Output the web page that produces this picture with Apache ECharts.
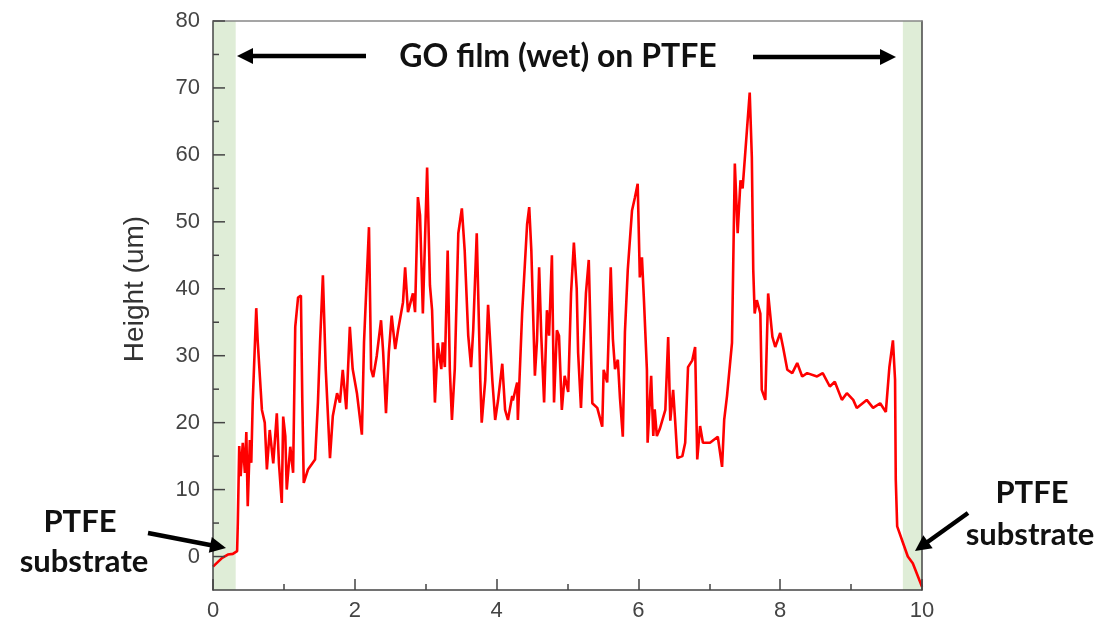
<!DOCTYPE html>
<html>
<head>
<meta charset="utf-8">
<script src="https://cdn.jsdelivr.net/npm/echarts@6/dist/echarts.min.js"></script>
<style>
html,body{margin:0;padding:0;background:#fff;}
#chart{width:1105px;height:628px;}
</style>
</head>
<body>
<div id="chart"></div>
<script>
// Position (x) and height (um) traced from the profile
var positions = [0.00,0.07,0.13,0.21,0.28,0.34,0.35,0.37,0.39,0.42,0.45,0.47,0.49,0.52,0.54,0.56,0.61,0.63,0.69,0.73,0.76,0.80,0.85,0.90,0.93,0.97,0.99,1.02,1.04,1.09,1.13,1.16,1.20,1.24,1.26,1.28,1.34,1.40,1.44,1.48,1.51,1.55,1.59,1.65,1.69,1.75,1.79,1.83,1.88,1.93,1.97,2.03,2.10,2.13,2.20,2.23,2.26,2.31,2.37,2.40,2.44,2.48,2.52,2.57,2.61,2.68,2.71,2.75,2.82,2.85,2.89,2.92,2.96,3.02,3.06,3.09,3.13,3.17,3.22,3.24,3.27,3.31,3.34,3.37,3.41,3.46,3.51,3.55,3.60,3.64,3.67,3.72,3.77,3.79,3.84,3.88,3.94,3.98,4.02,4.08,4.12,4.16,4.22,4.23,4.29,4.30,4.36,4.43,4.46,4.49,4.54,4.57,4.60,4.63,4.67,4.71,4.74,4.78,4.81,4.85,4.88,4.92,4.96,5.01,5.05,5.09,5.13,5.15,5.19,5.22,5.26,5.30,5.35,5.42,5.49,5.51,5.56,5.61,5.64,5.67,5.71,5.74,5.78,5.81,5.85,5.91,5.95,5.99,6.02,6.05,6.08,6.12,6.13,6.18,6.21,6.23,6.26,6.30,6.38,6.42,6.45,6.49,6.52,6.55,6.62,6.66,6.70,6.76,6.80,6.83,6.87,6.91,7.01,7.12,7.18,7.21,7.25,7.32,7.36,7.40,7.44,7.47,7.53,7.57,7.60,7.62,7.64,7.67,7.72,7.74,7.79,7.83,7.89,7.93,8.00,8.04,8.10,8.17,8.24,8.31,8.38,8.52,8.60,8.70,8.77,8.87,8.94,9.03,9.08,9.22,9.31,9.41,9.49,9.54,9.59,9.62,9.63,9.65,9.73,9.80,9.87,10.00];
var heights = [-1.5,-0.8,-0.2,0.3,0.4,0.8,5,16.5,12,17,12.5,18.6,7.5,17.4,14,23,37.1,32.3,21.9,20,13,18.9,13.9,21.4,13.9,8,20.9,18,10,16.4,12.5,34.3,38.7,39,23,11,13,13.9,14.5,23,32,42,28,14.7,21,24.4,23,27.9,22,34.3,28,24.4,18.2,32,49.2,28,26.8,30,35.3,30.5,21.4,30.5,36,31,33.8,38,43.2,36.5,39.3,36.5,53.7,51,36.3,58.1,40.5,36.8,23,31.9,28,32,28.3,45.7,28,20.4,28,48.3,52,45.7,33,28.3,33.8,48.3,26.3,20,26.3,37.6,26.3,20.4,23.3,28.8,21.9,20.4,24,23.3,26,20.4,36.3,49.6,52.2,45.7,27,32.3,43.2,33,23,36.8,33,45,23,33.8,33,21.9,27,24.6,39.3,46.9,40,30.4,22.2,29.8,39.3,44.3,22.9,22.2,19.4,27.9,26,43.2,32.5,28,29.4,23.7,17.9,33.5,42.8,51.7,53.6,55.7,41.7,44.7,37.9,27.9,17,27,18,22,18,19,21.9,32.8,20.3,24.9,20,14.7,15,17,28.3,29.3,31.3,14.5,19.5,17,17,17.9,13.4,20.4,24,31.9,58.7,48.3,56.2,55,63.6,69.3,59.6,42.8,36.3,38.3,36.3,24.9,23.4,39.3,32.8,31.3,33.4,31.3,27.9,27.4,28.9,26.9,27.4,26.9,27.4,25.4,26.1,23.4,24.4,23.4,22.2,23.4,22.2,22.9,21.6,28.3,32.3,26.4,11.5,4.5,2.1,0,-1,-4.5];
var yTickValues = [0,10,20,30,40,50,60,70,80];
var yMinorTickValues = [5,15,25,35,45,55,65,75];
var substrateBands = [[0,0.32],[9.73,10]];

var chart = echarts.init(document.getElementById('chart'), null, {renderer:'canvas'});
var pairs = positions.map(function(x,i){return [x, heights[i]];});
var tickFont = {fontFamily:'Liberation Sans', fontSize:22, color:'#444'};
var titleFont = 'bold 32px Lato';
var annoFont = 'bold 31px Lato';
var axisColor = '#444';
var MAJOR_LEN = 12, MINOR_LEN = 6;
var yTickData = yTickValues.map(function(v){return [0, v, MAJOR_LEN];})
  .concat(yMinorTickValues.map(function(v){return [0, v, MINOR_LEN];}));

function arrow(x1,y1,x2,y2){
  var ang = Math.atan2(y2-y1, x2-x1);
  var L = 16, W = 8;
  var bx = x2 - L*Math.cos(ang), by = y2 - L*Math.sin(ang);
  var px = -Math.sin(ang), py = Math.cos(ang);
  return [
    {type:'line', shape:{x1:x1,y1:y1,x2:bx+Math.cos(ang),y2:by+Math.sin(ang)}, style:{stroke:'#000', lineWidth:4.5}, z:100},
    {type:'polygon', shape:{points:[[x2,y2],[bx+px*W,by+py*W],[bx-px*W,by-py*W]]}, style:{fill:'#000'}, z:100}
  ];
}
function label(x,y,text,font){
  return {type:'text', x:x, y:y, style:{text:text, font:font, fill:'#111', align:'center', verticalAlign:'middle'}, z:100};
}

var graphics = [].concat(
  [label(558,57,'GO film (wet) on PTFE',titleFont)],
  arrow(366,56,237,56),
  arrow(753,57,896,57),
  [label(80,522,'PTFE',annoFont), label(84,562,'substrate',annoFont),
   label(1032,493,'PTFE',annoFont), label(1030,535,'substrate',annoFont),
   {type:'text', x:135, y:289, rotation:Math.PI/2,
    style:{text:'Height (um)', font:'28px Liberation Sans', fill:'#333', align:'center', verticalAlign:'middle'}, z:100}],
  arrow(148,533,226,548),
  arrow(968,513,915,551)
);

var yMin = -5, yMax = 80;

chart.setOption({
  animation:false,
  backgroundColor:'#fff',
  grid:{left:213, right:183, top:21, bottom:38, containLabel:false},
  xAxis:[{
    type:'value', min:0, max:10, interval:2, z:10,
    axisLine:{show:true, onZero:false, lineStyle:{color:axisColor, width:1.5}},
    axisTick:{show:true, inside:true, length:11, lineStyle:{color:axisColor, width:1.5}},
    minorTick:{show:true, splitNumber:2, length:6, lineStyle:{color:axisColor, width:1.5}},
    axisLabel:Object.assign({margin:10}, tickFont),
    splitLine:{show:false}
  },{
    type:'value', min:0, max:10, position:'top', z:10,
    axisLine:{show:true, onZero:false, lineStyle:{color:'#888', width:1.5}},
    axisTick:{show:false}, axisLabel:{show:false}, splitLine:{show:false}
  }],
  yAxis:[{
    type:'value', min:yMin, max:yMax, z:10,
    axisLine:{show:true, onZero:false, lineStyle:{color:axisColor, width:1.5}},
    axisTick:{show:false},
    axisLabel:Object.assign({margin:13, customValues:yTickValues.slice()}, tickFont),
    splitLine:{show:false}
  },{
    type:'value', min:yMin, max:yMax, position:'right', z:10,
    axisLine:{show:true, onZero:false, lineStyle:{color:axisColor, width:1.5}},
    axisTick:{show:false}, axisLabel:{show:false}, splitLine:{show:false}
  }],
  series:[{
    type:'line', data:pairs, xAxisIndex:0, yAxisIndex:0,
    showSymbol:false, symbol:'none',
    lineStyle:{color:'#ff0000', width:2.6},
    z:2,
    markArea:{
      silent:true,
      itemStyle:{color:'#dfedd7'},
      data:substrateBands.map(function(b){return [{xAxis:b[0]},{xAxis:b[1]}];})
    }
  },{
    // y-axis tick marks (inside), placed through the axis scale
    type:'custom', xAxisIndex:0, yAxisIndex:0, silent:true, clip:false, z:20,
    data:yTickData,
    encode:{x:0, y:1},
    renderItem:function(params, api){
      var p = api.coord([api.value(0), api.value(1)]);
      var len = api.value(2);
      return {type:'line', shape:{x1:p[0], y1:p[1], x2:p[0]+len, y2:p[1]},
              style:{stroke:axisColor, lineWidth:1.5}};
    }
  }],
  graphic:graphics
});
</script>
</body>
</html>
